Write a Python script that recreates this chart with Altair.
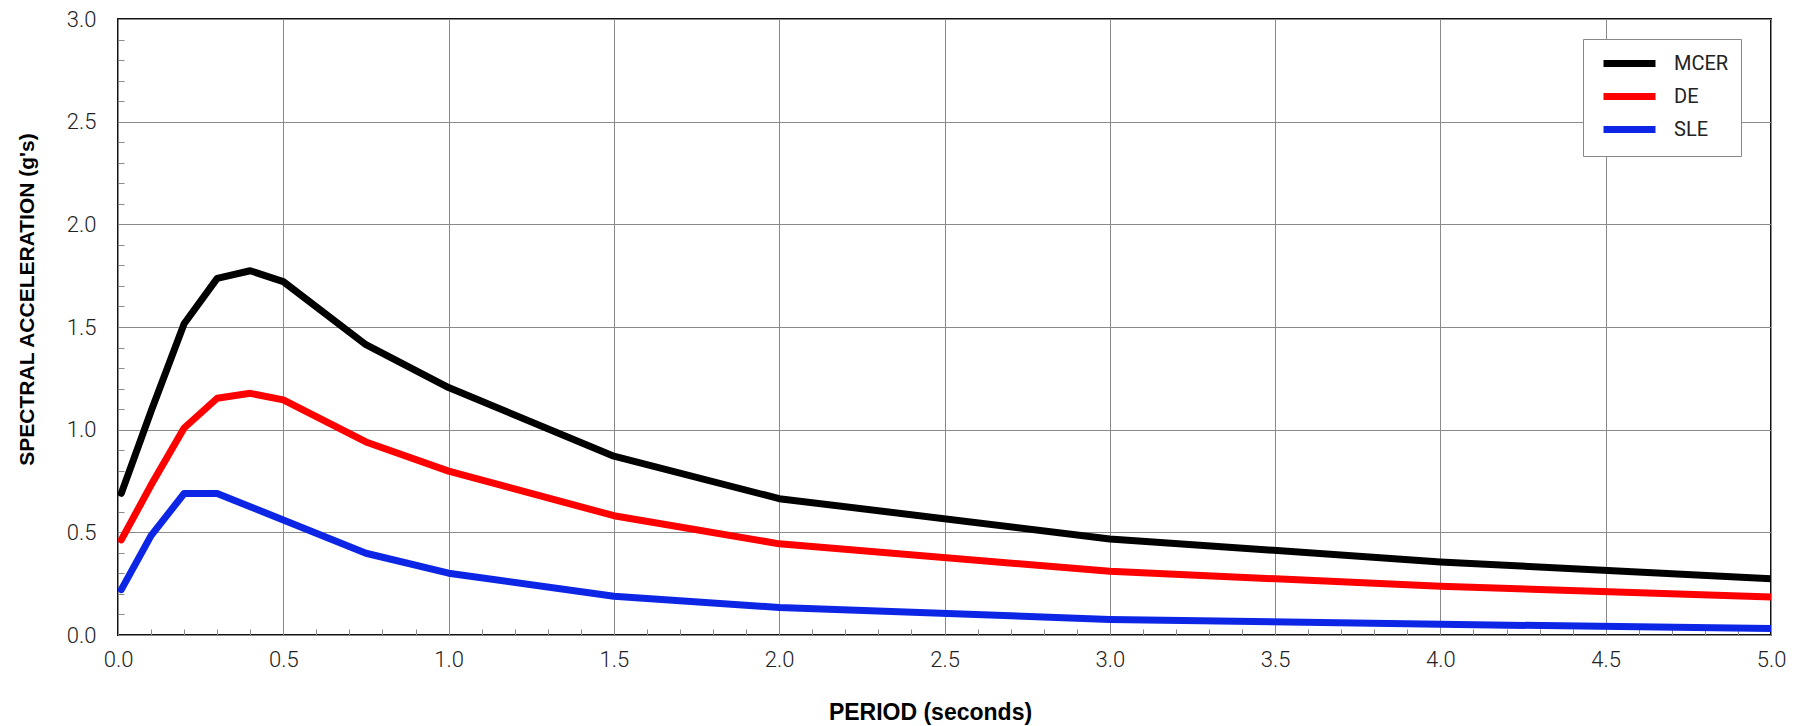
import altair as alt
import pandas as pd

# Data
period = [0.01, 0.1, 0.2, 0.3, 0.4, 0.5, 0.75, 1.0, 1.5, 2.0, 3.0, 4.0, 5.0]
mcer = [0.69, 1.09, 1.516, 1.737, 1.774, 1.721, 1.414, 1.205, 0.871, 0.664, 0.468, 0.356, 0.274]
de = [0.463, 0.73, 1.008, 1.153, 1.177, 1.145, 0.94, 0.798, 0.581, 0.444, 0.310, 0.237, 0.185]
sle = [0.221, 0.484, 0.689, 0.689, 0.625, 0.56, 0.398, 0.301, 0.189, 0.134, 0.076, 0.052, 0.032]

series_names = ["MCER", "DE", "SLE"]
series_colors = ["#000000", "#ff0000", "#0d26e6"]

x_major = [0.0, 0.5, 1.0, 1.5, 2.0, 2.5, 3.0, 3.5, 4.0, 4.5, 5.0]
y_major = [0.0, 0.5, 1.0, 1.5, 2.0, 2.5, 3.0]
x_minor = [round(i * 0.1, 1) for i in range(1, 50)]
y_minor = [round(i * 0.1, 1) for i in range(1, 30)]

rows = []
for name, vals in zip(series_names, [mcer, de, sle]):
    for p, v in zip(period, vals):
        rows.append({"period": p, "sa": v, "series": name})
df = pd.DataFrame(rows)

W, H = 1653, 616
TOP = 11
LABEL_FONT = "Roboto"
TITLE_FONT = "Liberation Sans"

xscale = alt.Scale(domain=[0, 5], nice=False, zero=False)
yscale = alt.Scale(domain=[0, 3], nice=False, zero=False)

lines = alt.Chart(df).mark_line(
    strokeWidth=7, strokeCap="round", strokeJoin="round", clip=True
).encode(
    x=alt.X("period:Q", scale=xscale, axis=alt.Axis(
        orient="bottom", values=x_major, format=".1f", grid=True,
        gridColor="#8a8a8a", gridWidth=1, ticks=False, domain=False,
        labelFont=LABEL_FONT, labelFontSize=22, labelFontWeight=300,
        labelColor="#222222", labelPadding=14, labelFlush=False,
        labelOverlap=False,
        title="PERIOD (seconds)", titleFont=TITLE_FONT, titleFontSize=23,
        titleFontWeight="bold", titleColor="#000000",
        titleX=812, titleY=84, titleBaseline="alphabetic", titleAlign="center",
    )),
    y=alt.Y("sa:Q", scale=yscale, axis=alt.Axis(
        orient="left", values=y_major, format=".1f", grid=True,
        gridColor="#8a8a8a", gridWidth=1, ticks=False, domain=False,
        labelFont=LABEL_FONT, labelFontSize=22, labelFontWeight=300,
        labelColor="#222222", labelPadding=22, labelFlush=False,
        labelOverlap=False,
        title="SPECTRAL ACCELERATION (g's)", titleFont=TITLE_FONT,
        titleFontSize=21, titleFontWeight="bold", titleColor="#000000",
        titleX=-85, titleY=280, titleAngle=-90, titleBaseline="alphabetic",
        titleAlign="center",
    )),
    color=alt.Color("series:N", scale=alt.Scale(domain=series_names, range=series_colors),
                    legend=alt.Legend(
                        title=None, orient="none", legendX=1465, legendY=20,
                        symbolType="M-3,0H3", symbolStrokeWidth=7, symbolSize=300,
                        symbolOffset=22,
                        labelFont=LABEL_FONT, labelFontSize=20, labelFontWeight=400,
                        labelColor="#222222", labelOffset=32,
                        strokeColor="#888888", fillColor="#ffffff",
                        padding=12, rowPadding=4,
                    )),
)

minor = alt.Chart(df).mark_point(opacity=0).encode(
    x=alt.X("period:Q", scale=xscale, axis=alt.Axis(
        orient="top", offset=-H, values=x_minor, ticks=True, tickSize=6,
        tickColor="#8a8a8a", tickWidth=1, labels=False, domain=False,
        grid=False, title=None,
    )),
    y=alt.Y("sa:Q", scale=yscale, axis=alt.Axis(
        orient="right", offset=-W, values=y_minor, ticks=True, tickSize=6,
        tickColor="#8a8a8a", tickWidth=1, labels=False, domain=False,
        grid=False, title=None,
    )),
)

chart = alt.layer(lines, minor).resolve_axis(
    x="independent", y="independent"
).properties(
    width=W, height=H,
    autosize=alt.AutoSizeParams(type="none"),
    padding={"left": 110, "top": TOP, "right": 25, "bottom": 90},
    background="#ffffff",
).configure_view(
    stroke="#111111", strokeWidth=2
)

chart.save("out.html", embed_options={"renderer": "svg", "actions": False})
